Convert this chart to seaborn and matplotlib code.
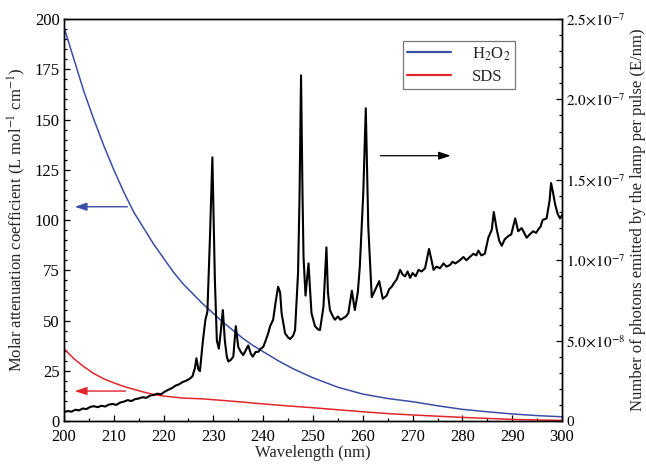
import numpy as np
import pandas as pd
import matplotlib
matplotlib.use("Agg")
import matplotlib.pyplot as plt
from matplotlib.ticker import MultipleLocator, FuncFormatter
import seaborn as sns

# molar attenuation coefficients (L mol-1 cm-1)
h2o2_wl = [200, 202, 204, 206, 208, 210, 212, 214, 216, 218, 220, 222, 224, 226, 228,
           230, 232, 234, 236, 238, 240, 243, 246, 250, 255, 260, 265, 270, 275, 280,
           285, 290, 295, 300]
h2o2_eps = [196, 180, 164, 150, 137, 125, 114, 104, 96, 88, 81, 74, 68, 63, 58,
            53.5, 49, 45, 41, 37.5, 34.5, 30, 26, 21.5, 16.8, 13.4, 11.2, 9.6, 7.6, 5.8,
            4.6, 3.5, 2.7, 2.1]

sds_wl = [200, 202, 204, 206, 208, 210, 212, 214, 216, 218, 220, 224, 228, 235, 240,
          245, 250, 255, 260, 265, 270, 275, 280, 285, 290, 295, 300]
sds_eps = [36, 31, 27, 23.6, 21, 19, 17.2, 15.8, 14.4, 13.2, 12.4, 11.4, 11, 9.6, 8.5,
           7.5, 6.6, 5.6, 4.6, 3.7, 3.0, 2.4, 1.8, 1.3, 0.8, 0.5, 0.3]

# lamp emission, photons per pulse (units of 1e-8 E/nm)
lamp_wl = [200.0, 200.8, 201.5, 202.3, 203.0, 203.8, 204.5, 205.3, 206.0, 206.8, 207.5,
           208.3, 209.0, 209.8, 210.5, 211.3, 212.0, 212.8, 213.5, 214.3, 215.0, 215.8,
           216.5, 217.3, 218.0, 218.8, 219.5, 220.2, 221.0, 221.7, 222.4, 223.1, 223.8,
           224.5, 225.2, 225.8, 226.3, 226.6, 227.0, 227.3, 227.9, 228.4, 228.8, 229.3,
           229.8, 230.3, 230.7, 231.1, 231.5, 231.9, 232.3, 232.7, 233.0, 233.5, 234.0,
           234.5, 235.0, 235.5, 236.0, 236.5, 237.0, 237.5, 237.9, 238.5, 239.0, 239.5,
           240.0, 240.5, 241.0, 241.4, 242.0, 242.5, 243.0, 243.4, 243.7, 244.4, 245.0,
           245.4, 246.0, 246.4, 247.0, 247.3, 247.6, 247.9, 248.1, 248.5, 249.1, 249.7,
           250.4, 251.0, 251.4, 252.1, 252.7, 253.0, 253.4, 254.0, 254.4, 255.0, 255.5,
           256.1, 256.6, 257.1, 257.8, 258.4, 259.0, 259.4, 260.1, 260.6, 261.1, 261.8,
           262.4, 263.3, 264.0, 264.8, 265.3, 265.8, 266.3, 266.8, 267.5, 268.0, 268.5,
           269.0, 269.5, 270.0, 270.6, 271.2, 271.8, 272.5, 273.3, 273.8, 274.2, 274.8,
           275.5, 276.2, 276.8, 277.5, 278.0, 278.6, 279.5, 280.2, 280.8, 281.5, 282.2,
           282.8, 283.2, 283.8, 284.5, 285.2, 285.9, 286.3, 286.9, 287.4, 287.9, 288.5,
           289.2, 289.8, 290.6, 291.2, 291.9, 292.4, 292.9, 293.5, 294.2, 294.8, 295.2,
           295.7, 296.1, 296.9, 297.5, 297.8, 298.2, 298.6, 299.1, 299.6, 300.0]
lamp_e8 = [0.55, 0.62, 0.58, 0.70, 0.66, 0.78, 0.74, 0.88, 0.92, 0.86, 0.95,
           0.90, 1.02, 1.06, 1.00, 1.15, 1.20, 1.30, 1.24, 1.36, 1.40, 1.48,
           1.44, 1.58, 1.62, 1.70, 1.66, 1.82, 1.95, 2.05, 2.20, 2.28, 2.42,
           2.50, 2.62, 2.78, 3.30, 3.90, 3.20, 3.10, 5.00, 6.30, 6.80, 11.3,
           16.4, 8.8, 5.0, 4.5, 5.6, 6.9, 5.0, 4.0, 3.7, 3.8, 4.0,
           5.9, 4.6, 4.3, 4.1, 4.4, 4.7, 4.2, 4.0, 4.3, 4.3, 4.5,
           4.6, 5.0, 5.45, 5.9, 6.3, 7.4, 8.35, 8.0, 6.7, 5.45, 5.2,
           5.1, 5.3, 5.65, 9.2, 14.0, 21.5, 14.0, 10.2, 7.8, 9.8, 6.7,
           5.9, 5.7, 5.65, 7.1, 10.8, 8.0, 6.9, 6.5, 6.3, 6.5, 6.3,
           6.4, 6.5, 6.7, 8.1, 6.9, 8.0, 9.6, 14.2, 19.45, 12.1, 7.7,
           8.1, 8.7, 7.6, 7.8, 8.2, 8.35, 8.6, 8.8, 9.4, 9.1, 9.0,
           9.3, 8.9, 9.2, 9.0, 9.4, 9.3, 9.5, 10.7, 10.0, 9.4, 9.6,
           9.5, 9.8, 9.6, 9.7, 9.9, 9.8, 10.0, 10.2, 10.0, 10.2, 10.4,
           10.3, 10.6, 10.3, 10.4, 11.4, 11.9, 13.0, 11.9, 11.2, 10.9, 11.3,
           11.5, 11.6, 12.6, 11.8, 12.0, 11.7, 11.4, 11.6, 11.8, 11.7, 11.9,
           12.1, 12.5, 12.6, 13.7, 14.8, 14.2, 13.5, 12.9, 12.6, 12.8]

sns.set_style("ticks")
plt.rcParams['font.family'] = ['Liberation Serif', 'DejaVu Serif']
plt.rcParams['mathtext.fontset'] = 'stix'
plt.rcParams['font.size'] = 12

h2o2_df = pd.DataFrame({'wl': h2o2_wl, 'eps': h2o2_eps})
sds_df = pd.DataFrame({'wl': sds_wl, 'eps': sds_eps})
lamp_df = pd.DataFrame({'wl': lamp_wl, 'photons': np.array(lamp_e8) * 1e-8})

fig = plt.figure(figsize=(6.46, 4.65), dpi=100)
ax = fig.add_axes([0.099, 0.0946, 0.771, 0.8645])
ax2 = ax.twinx()

blue = '#3b4ea6'
red = '#e3262b'
sns.lineplot(data=h2o2_df, x='wl', y='eps', ax=ax, color=blue, lw=1.1,
             sort=False, estimator=None, label='H$_2$O$_2$')
sns.lineplot(data=sds_df, x='wl', y='eps', ax=ax, color=red, lw=1.1,
             sort=False, estimator=None, label='SDS')
sns.lineplot(data=lamp_df, x='wl', y='photons', ax=ax2, color='black', lw=1.5,
             sort=False, estimator=None, legend=False)

ax.set_xlim(200, 300)
ax.set_ylim(0, 200)
ax2.set_ylim(0, 2.5e-7)

ax.xaxis.set_major_locator(MultipleLocator(10))
ax.xaxis.set_minor_locator(MultipleLocator(5))
ax.yaxis.set_major_locator(MultipleLocator(25))
ax.yaxis.set_minor_locator(MultipleLocator(5))
ax2.yaxis.set_major_locator(MultipleLocator(5e-8))
ax2.yaxis.set_minor_locator(MultipleLocator(1e-8))


def sci_fmt(v, pos):
    if abs(v) < 1e-12:
        return '0'
    exp = int(np.floor(np.log10(abs(v))))
    mant = v / 10 ** exp
    return r'$%.1f\!\times\!10^{%d}$' % (mant, exp)


ax2.yaxis.set_major_formatter(FuncFormatter(sci_fmt))

for a in (ax, ax2):
    a.tick_params(which='both', direction='in', width=0.9, labelsize=12, colors='black')
    a.tick_params(which='major', length=4.5)
    a.tick_params(which='minor', length=2.5)
    for s in a.spines.values():
        s.set_linewidth(1.0)
        s.set_color('black')
ax.tick_params(axis='x', pad=6)
ax.tick_params(axis='y', pad=3)
ax2.tick_params(axis='y', pad=3, labelsize=11)

ax.set_xlabel('Wavelength (nm)', fontsize=12, labelpad=0)
ax.set_ylabel('Molar attenuation coefficient (L mol$^{-1}$ cm$^{-1}$)', fontsize=12)
ax.yaxis.label.set(ha='center', va='center')
ax.yaxis.set_label_coords(-0.094, 0.5)
ax2.set_ylabel('Number of photons emitted by the lamp per pulse (E/nm)', fontsize=12)
ax2.yaxis.label.set(ha='center', va='center', rotation=90)
ax2.yaxis.set_label_coords(1.153, 0.5)

# arrows pointing to the axis each curve belongs to
ax.annotate('', xy=(201.6, 106.6), xytext=(213.3, 106.6),
            arrowprops=dict(arrowstyle='-|>,head_length=0.6,head_width=0.2', color=blue, lw=1.0))
ax.annotate('', xy=(201.6, 14.9), xytext=(212.9, 14.9),
            arrowprops=dict(arrowstyle='-|>,head_length=0.6,head_width=0.2', color=red, lw=1.0))
ax2.annotate('', xy=(278.2, 1.65e-7), xytext=(263.0, 1.65e-7),
             arrowprops=dict(arrowstyle='-|>,head_length=0.6,head_width=0.2', color='black', lw=0.9))

leg = ax.legend(loc='upper left', bbox_to_anchor=(0.681, 0.945), borderaxespad=0,
                frameon=True, fancybox=False, edgecolor='#777777', framealpha=1,
                handlelength=2.6, handletextpad=1.3, borderpad=0.25, labelspacing=0.35,
                fontsize=12)
leg.get_frame().set_linewidth(0.9)
for line in leg.get_lines():
    line.set_linewidth(1.6)

fig.savefig('out.png', dpi=100)
